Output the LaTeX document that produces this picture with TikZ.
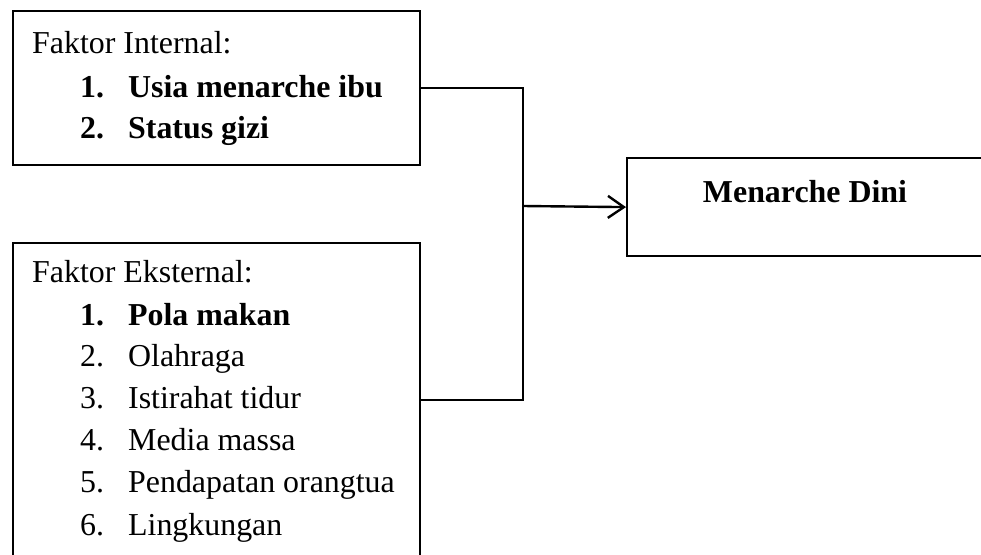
\documentclass[tikz,border=0pt]{standalone}
\usepackage{fontspec}
\setmainfont{Liberation Serif}
\usetikzlibrary{arrows.meta}
\tikzset{
  box/.style={draw, line width=2.2pt, anchor=north west, inner sep=0pt},
  txt/.style={anchor=base west, inner sep=0pt, font=\fontsize{31.9}{38}\selectfont},
  conn/.style={line width=2.4pt},
}
\newcommand{\itm}[2]{\makebox[48pt][l]{#1}#2}
\begin{document}
\begin{tikzpicture}[x=1pt,y=-1pt]
\useasboundingbox (0,0) rectangle (981,554);
% boxes
\node[box, minimum width=407pt, minimum height=154pt] (top) at (12,10) {};
\node[box, minimum width=407pt, minimum height=314pt] (bot) at (12,242) {};
\node[box, minimum width=400pt, minimum height=98pt] (out) at (626,157) {};
% top box text
\node[txt] (t0) at (32,53) {Faktor Internal:};
\node[txt] (t1) at (80,97) {\bfseries\itm{1.}{Usia menarche ibu}};
\node[txt] (t2) at (80,138) {\bfseries\itm{2.}{Status gizi}};
% bottom box text
\node[txt] (b0) at (32,282) {Faktor Eksternal:};
\node[txt] (b1) at (80,325) {\bfseries\itm{1.}{Pola makan}};
\node[txt] (b2) at (80,366) {\itm{2.}{Olahraga}};
\node[txt] (b3) at (80,408) {\itm{3.}{Istirahat tidur}};
\node[txt] (b4) at (80,450) {\itm{4.}{Media massa}};
\node[txt] (b5) at (80,492) {\itm{5.}{Pendapatan orangtua}};
\node[txt] (b6) at (80,535) {\itm{6.}{Lingkungan}};
% output text
\node[txt, anchor=base] (o1) at (805,202) {\bfseries Menarche Dini};
% connectors
\coordinate (j) at (523,206);
\draw[conn] (top.east) -| (j);
\draw[conn] (bot.east) -| (j);
\draw[conn, -{Straight Barb[length=16pt,width=22pt,line width=2.4pt]}] (j) -- (out.west);
\end{tikzpicture}
\end{document}
